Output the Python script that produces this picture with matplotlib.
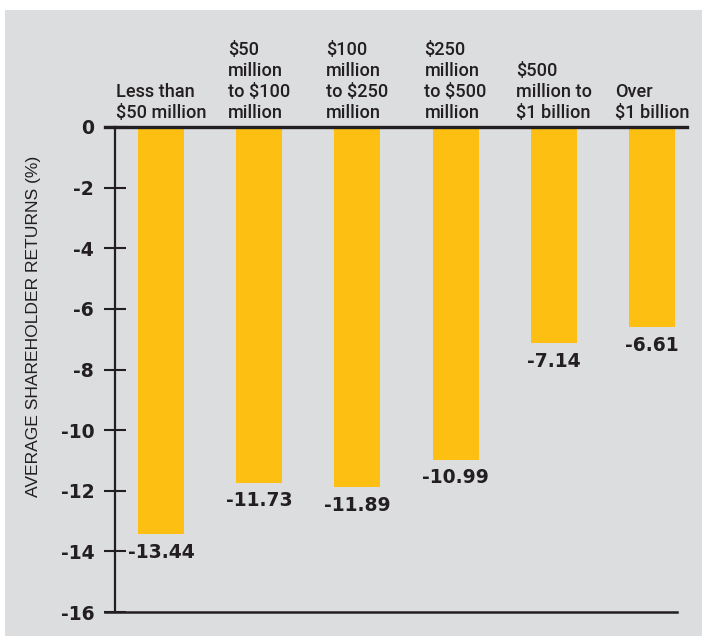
import matplotlib.pyplot as plt
from matplotlib.patches import Rectangle

categories = [
    "Less than\n$50 million",
    "$50\nmillion\nto $100\nmillion",
    "$100\nmillion\nto $250\nmillion",
    "$250\nmillion\nto $500\nmillion",
    "$500\nmillion to\n$1 billion",
    "Over\n$1 billion",
]
returns = [-13.44, -11.73, -11.89, -10.99, -7.14, -6.61]
yticks = [0, -2, -4, -6, -8, -10, -12, -14, -16]

bg = "#dcdddf"
bar_color = "#fcbf12"
ink = "#231f20"
label_font = ["Roboto", "DejaVu Sans"]

W, H = 702, 636
fig = plt.figure(figsize=(W / 100, H / 100), dpi=100, facecolor="white")
fig.patches.append(Rectangle((5 / W, 0), 1 - 5 / W, 1 - 10 / H,
                             transform=fig.transFigure, facecolor=bg,
                             edgecolor="none", zorder=-10))

ax = fig.add_axes([105 / W, 1 - 612 / H, 582 / W, 485 / H])
ax.set_facecolor("none")

x = list(range(len(returns)))
ax.bar(x, returns, width=0.47, color=bar_color, zorder=2)
ax.set_xlim(-0.57, 5.356)
ax.set_ylim(-16, 0)

# axes lines
for s in ["top", "right"]:
    ax.spines[s].set_visible(False)
ax.spines["left"].set_position(("data", -0.468))
ax.spines["left"].set_linewidth(1.6)
ax.spines["left"].set_color(ink)
ax.spines["bottom"].set_linewidth(1.8)
ax.spines["bottom"].set_color(ink)
ax.spines["bottom"].set_bounds(-0.57, 5.25)
ax.axhline(0, color=ink, lw=2.4, zorder=3, clip_on=False)

ax.set_xticks([])
ax.set_yticks(yticks)
ax.set_yticklabels([str(t) for t in yticks])
ax.tick_params(axis="y", direction="inout", length=16, width=1.5,
               color=ink, pad=7, labelsize=13.5, labelcolor=ink)
for lab in ax.get_yticklabels():
    lab.set_fontweight("heavy")

for i, (cat, v) in enumerate(zip(categories, returns)):
    ax.annotate(cat, xy=(i, 0), xytext=(0, 3.5), textcoords="offset points",
                ha="center", va="bottom", multialignment="left",
                fontsize=13.1, family=label_font, fontweight="medium",
                color=ink, linespacing=1.22, annotation_clip=False)
    ax.annotate(f"{v:.2f}", xy=(i, v), xytext=(0, -6), textcoords="offset points",
                ha="center", va="top", fontsize=13.5, fontweight="heavy",
                color=ink, annotation_clip=False)

fig.text(34 / W, 1 - 326 / H, "AVERAGE SHAREHOLDER RETURNS (%)",
         rotation=90, ha="center", va="center", fontsize=12.6,
         family=["Liberation Sans", "DejaVu Sans"], color=ink)

fig.savefig("out.png", dpi=100, facecolor=fig.get_facecolor())
